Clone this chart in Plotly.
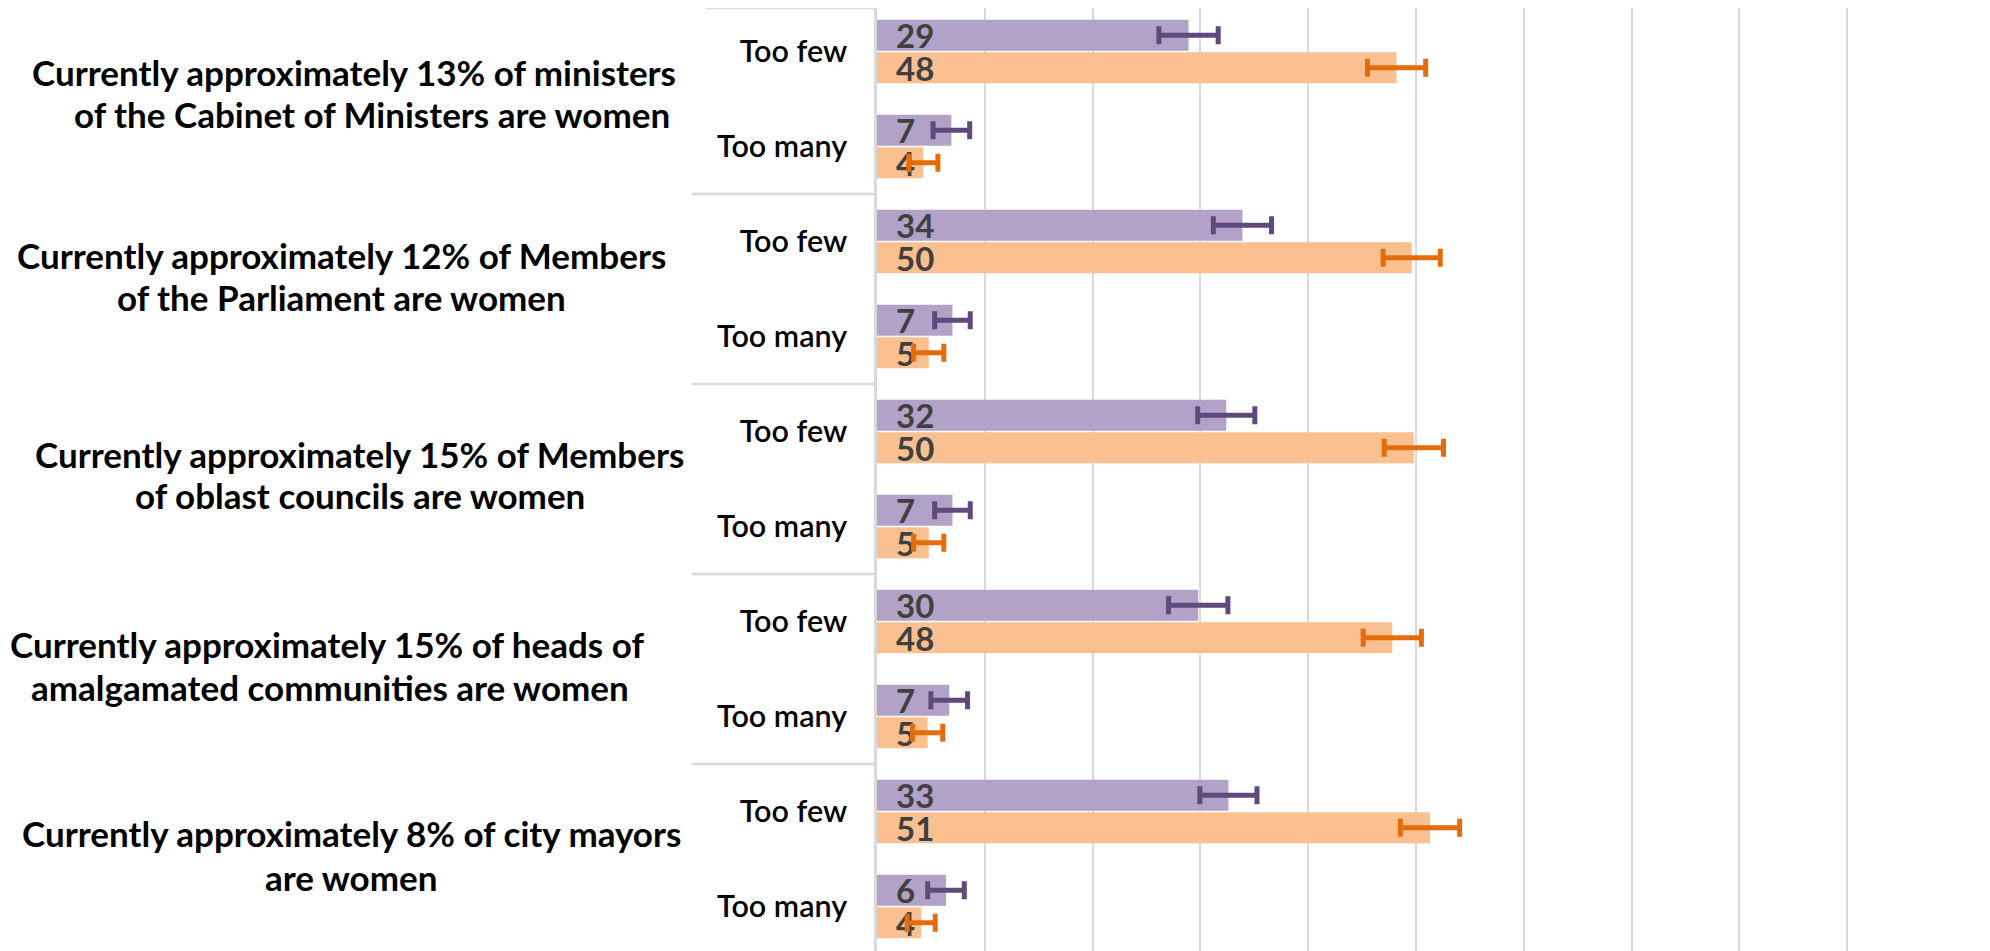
import plotly.graph_objects as go

# ---------------- data ----------------
groups = [
    ["Currently approximately 13% of ministers", "of the Cabinet of Ministers are women"],
    ["Currently approximately 12% of Members", "of the Parliament are women"],
    ["Currently approximately 15% of Members", "of oblast councils are women"],
    ["Currently approximately 15% of heads of", "amalgamated communities are women"],
    ["Currently approximately 8% of city mayors", "are women"],
]
answers = ["Too few", "Too many"]

# order: group1 few, group1 many, group2 few, ...
purple_vals = [28.9, 6.9, 33.9, 7.0, 32.4, 7.0, 29.8, 6.7, 32.6, 6.4]
purple_err = [2.75, 1.7, 2.7, 1.65, 2.65, 1.65, 2.75, 1.7, 2.65, 1.7]
orange_vals = [48.2, 4.3, 49.6, 4.8, 49.8, 4.8, 47.8, 4.7, 51.3, 4.1]
orange_err = [2.7, 1.35, 2.65, 1.4, 2.75, 1.4, 2.7, 1.4, 2.75, 1.3]

# ---------------- layout constants (page pixels) ----------------
BODY = 8                      # default html body margin
W, H = 1990 - BODY, 951 - BODY
PLOT_L, PLOT_R = 877, 1955    # page x of value 0 and 100
PLOT_W = PLOT_R - PLOT_L
SLOT = 95.0                   # px per category slot
TOP_PAGE = 4                  # page y of the top slot edge
line_x_px = [[354, 372], [341.5, 341.5], [359, 359.5], [327, 330], [351, 351]]
line_dy_px = [[-27.5, 14.5], [-34, 8], [-25, 16], [-25.5, 18], [-26, 18]]

n_rows = len(groups) * len(answers)
y_pos = list(range(n_rows))
tick_text = answers * len(groups)

y_top = -0.5 + (BODY - TOP_PAGE) / SLOT
y_bot = -0.5 + (951 - TOP_PAGE) / SLOT

label_font = dict(family="Lato", size=33, color="#404040", weight="bold")

fig = go.Figure()
for vals, errs, col, ecol in [
    (purple_vals, purple_err, "#B3A2C7", "#604A7B"),
    (orange_vals, orange_err, "#FAC090", "#E46C0A"),
]:
    fig.add_trace(go.Bar(
        y=y_pos, x=vals, orientation="h",
        marker=dict(color=col, line=dict(width=0)),
        error_x=dict(type="data", array=errs, color=ecol, thickness=5, width=9),
        texttemplate="\u00a0\u00a0%{x:.0f}", textposition="inside",
        insidetextanchor="start", textangle=0,
        textfont=label_font, insidetextfont=label_font, constraintext="none",
        cliponaxis=False, hoverinfo="skip",
    ))

# group divider lines (Excel-style multi-level category ticks)
shapes = [dict(type="line", xref="paper", yref="paper", x0=(706 - PLOT_L) / PLOT_W,
               x1=0, y0=1, y1=1, line=dict(color="#d9d9d9", width=2.5))]
for k in range(1, len(groups) + 1):
    yb = k * len(answers) - 0.5
    shapes.append(dict(type="line", xref="paper", yref="y", x0=(692 - PLOT_L) / PLOT_W,
                       x1=0, y0=yb, y1=yb, line=dict(color="#d9d9d9", width=2.5)))

annotations = []
for i, lines in enumerate(groups):
    for j, line in enumerate(lines):
        annotations.append(dict(
            text=line, xref="paper", yref="y",
            x=(line_x_px[i][j] - PLOT_L) / PLOT_W, y=i * len(answers) + 0.5,
            xanchor="center", yanchor="middle", showarrow=False,
            yshift=-line_dy_px[i][j],
            font=dict(family="Lato", size=35, color="#000000", weight="bold"),
        ))

fig.update_layout(
    width=W, height=H,
    margin=dict(l=PLOT_L - BODY, r=W - (PLOT_R - BODY), t=0, b=0, pad=0),
    paper_bgcolor="white", plot_bgcolor="white",
    barmode="group", bargap=0.316, bargroupgap=0.05,
    showlegend=False,
    shapes=shapes, annotations=annotations,
    xaxis=dict(range=[0, 100], dtick=10, showgrid=True, gridcolor="#d9d9d9",
               gridwidth=2, showticklabels=False, zeroline=False, showline=False,
               ticks=""),
    yaxis=dict(range=[y_bot, y_top], tickmode="array",
               tickvals=y_pos, ticktext=tick_text, ticks="",
               ticklabelstandoff=21, showgrid=False, zeroline=False,
               showline=True, linecolor="#d9d9d9", linewidth=2.5,
               tickfont=dict(family="Lato", size=30.5, color="#000000", weight=600)),
)

fig.write_html("out.html")
